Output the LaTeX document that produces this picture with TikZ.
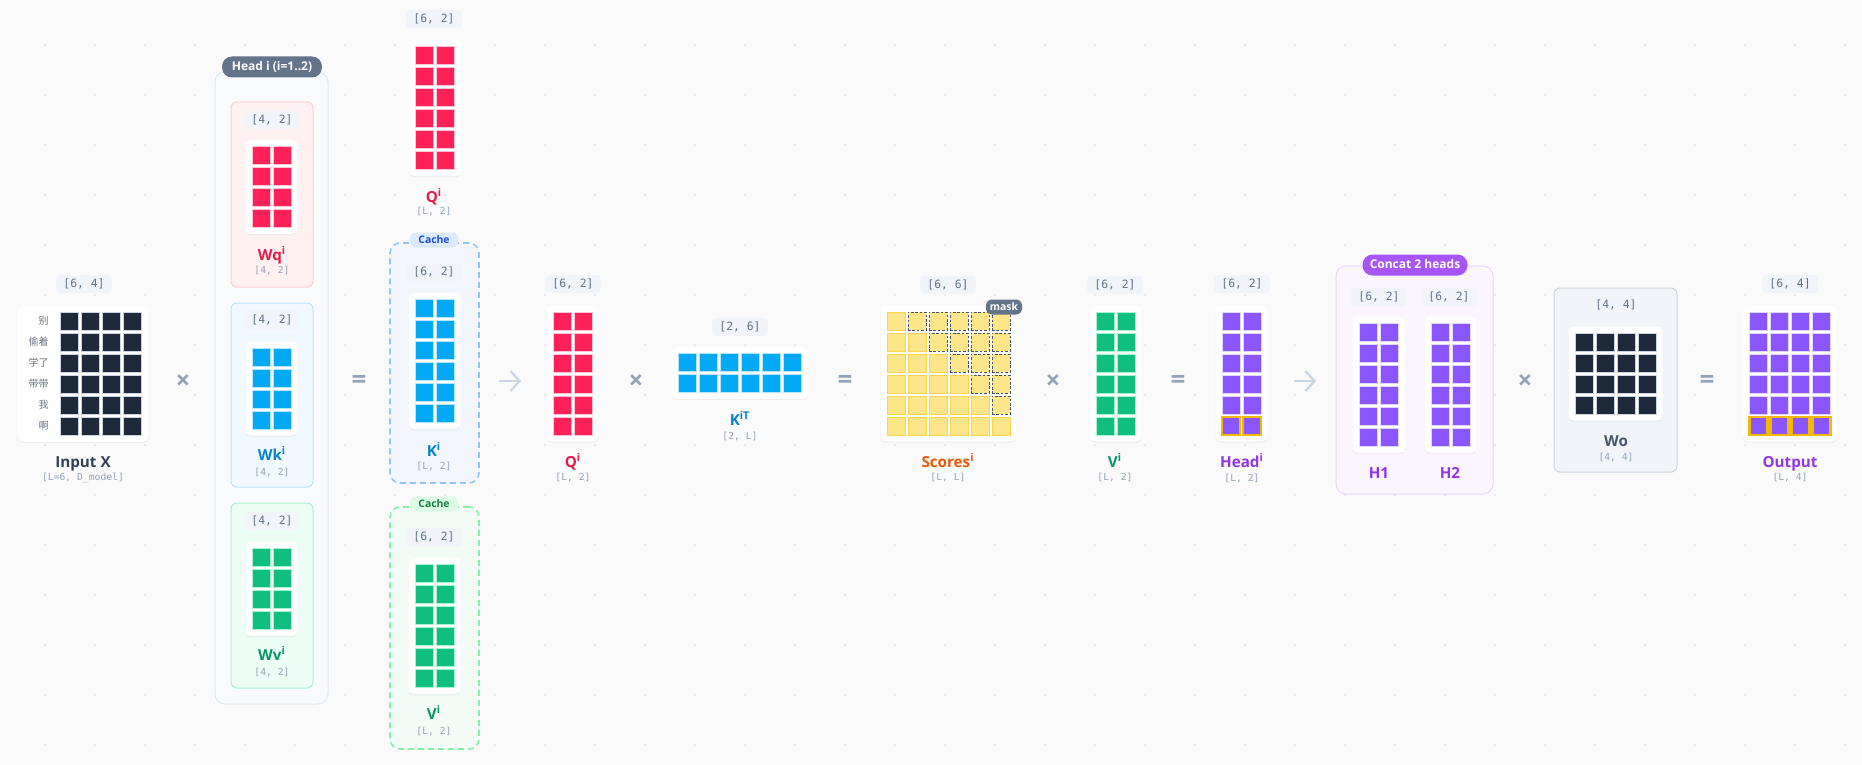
\documentclass[tikz,border=0pt]{standalone}
\usepackage{fontspec}
\setmainfont{Open Sans}
\setmonofont{DejaVu Sans Mono}
\newfontfamily\cjk{Noto Sans CJK SC}
\usepackage{xcolor}
\usetikzlibrary{arrows.meta,shadows}

\definecolor{bgc}{HTML}{FAFAFB}
\definecolor{dotc}{HTML}{E6E7F4}
\definecolor{navy}{HTML}{1E293B}
\definecolor{navyln}{HTML}{CBD5E1}
\definecolor{rose}{HTML}{FF2157}
\definecolor{roseln}{HTML}{FFC4D2}
\definecolor{sky}{HTML}{03A9F4}
\definecolor{skyln}{HTML}{B3E5FC}
\definecolor{emer}{HTML}{10BE7F}
\definecolor{emerln}{HTML}{A7F3D0}
\definecolor{purp}{HTML}{8B55FF}
\definecolor{purpln}{HTML}{DDD6FE}
\definecolor{yel}{HTML}{FDE68A}
\definecolor{yelln}{HTML}{FCD34D}
\definecolor{gold}{HTML}{F5B800}
\definecolor{maskln}{HTML}{475569}
\definecolor{tagbg}{HTML}{F1F5F9}
\definecolor{tagtxt}{HTML}{64748B}
\definecolor{dimtxt}{HTML}{94A3B8}
\definecolor{opc}{HTML}{94A3B8}
\definecolor{arrc}{HTML}{CBD5E1}
\definecolor{cjkc}{HTML}{6B7280}
\definecolor{slate}{HTML}{334155}
\definecolor{slatel}{HTML}{475569}
\definecolor{pillgray}{HTML}{64748B}
\definecolor{qcol}{HTML}{E11D48}
\definecolor{kcol}{HTML}{0284C7}
\definecolor{vcol}{HTML}{059669}
\definecolor{scol}{HTML}{EA580C}
\definecolor{hcol}{HTML}{9333EA}
\definecolor{headbg}{HTML}{F8FAFC}
\definecolor{headln}{HTML}{E2E8F0}
\definecolor{wqbg}{HTML}{FFF1F2}
\definecolor{wqln}{HTML}{FECDD3}
\definecolor{wkbg}{HTML}{F0F9FF}
\definecolor{wkln}{HTML}{BAE6FD}
\definecolor{wvbg}{HTML}{ECFDF5}
\definecolor{wvln}{HTML}{A7F3D0}
\definecolor{kcbg}{HTML}{F3F7FD}
\definecolor{kcln}{HTML}{93C5FD}
\definecolor{kctag}{HTML}{DBEAFE}
\definecolor{kctxt}{HTML}{1D4ED8}
\definecolor{vcbg}{HTML}{F3FBF6}
\definecolor{vcln}{HTML}{86EFAC}
\definecolor{vctag}{HTML}{DCFCE7}
\definecolor{vctxt}{HTML}{15803D}
\definecolor{catbg}{HTML}{FAF5FF}
\definecolor{catln}{HTML}{E9D5FF}
\definecolor{catpill}{HTML}{A855F7}
\definecolor{wobg}{HTML}{F1F5F9}
\definecolor{woln}{HTML}{CBD5E1}

\begin{document}
\begin{tikzpicture}[x=0.5pt,y=-0.5pt,
  cell/.style={minimum size=9pt, inner sep=0pt, outer sep=0pt, line width=0.5pt},
  card/.style={fill=white, rounded corners=2.5pt, inner sep=0pt,
    drop shadow={shadow xshift=0pt, shadow yshift=-0.6pt, opacity=0.10}},
  tag/.style={fill=tagbg, text=tagtxt, rounded corners=2pt, inner xsep=3.6pt, inner ysep=0pt,
    minimum height=9pt, text height=4.3pt, text depth=1.1pt, font=\ttfamily\fontsize{5.7}{6}\selectfont},
  dims/.style={text=dimtxt, inner sep=0pt, text height=3.6pt, text depth=0.9pt,
    font=\ttfamily\fontsize{4.85}{5}\selectfont},
  title/.style={inner sep=0pt, text height=5.3pt, text depth=0pt, font=\bfseries\fontsize{7.6}{8}\selectfont},
  op/.style={text=opc, inner sep=0pt, font=\bfseries\fontsize{13}{13}\selectfont},
  pill/.style={text=white, rounded corners=5pt, inner xsep=3pt, inner ysep=0pt, minimum height=10.5pt,
    text height=4.4pt, text depth=1pt, font=\bfseries\fontsize{6}{6}\selectfont},
  minipill/.style={rounded corners=3pt, inner xsep=2pt, inner ysep=0pt, minimum height=7.5pt,
    text height=3.8pt, text depth=0.6pt, font=\bfseries\fontsize{5.2}{5}\selectfont},
  box/.style={rounded corners=3pt, line width=0.5pt},
  cachebox/.style={rounded corners=5pt, line width=0.8pt, dash pattern=on 3pt off 2pt},
  rowlab/.style={anchor=east, inner sep=0pt, text=cjkc, font=\cjk\fontsize{5}{5}\selectfont},
  link/.style={draw=arrc, line width=1.1pt, line cap=round, -{Straight Barb[length=4.5pt,width=10pt]}}
]
  \useasboundingbox (0,0) rectangle (1862,765);
  \fill[bgc] (0,0) rectangle (1862,765);
  \foreach \i in {0,...,36}
    \foreach \j in {0,...,14}
      \fill[dotc] ({45+50*\i},{45+50*\j}) circle (0.7pt);

     % Containers
  \node[box, draw=headln, fill=headbg, rounded corners=5pt, minimum width=56.5pt, minimum height=316pt] (headbox) at (271.5,388) {};
  \node[box, draw=wqln, fill=wqbg, minimum width=41pt, minimum height=92.5pt] (wqbox) at (272,194.5) {};
  \node[box, draw=wkln, fill=wkbg, minimum width=41pt, minimum height=92pt] (wkbox) at (272,395) {};
  \node[box, draw=wvln, fill=wvbg, minimum width=41pt, minimum height=92.5pt] (wvbox) at (272,595.5) {};
  \node[cachebox, draw=kcln, fill=kcbg, minimum width=44.5pt, minimum height=120pt] (kcbox) at (434.5,363) {};
  \node[cachebox, draw=vcln, fill=vcbg, minimum width=44.5pt, minimum height=121pt] (vcbox) at (434.5,628) {};
  \node[box, draw=catln, fill=catbg, rounded corners=5pt, minimum width=78.5pt, minimum height=114pt] (catbox) at (1414.5,380) {};
  \node[box, draw=woln, fill=wobg, minimum width=61.5pt, minimum height=92pt] (wobox) at (1615.5,380) {};

  \node[pill, fill=pillgray, minimum width=50pt] (headpill) at (272,67) {Head i (i=1..2)};
  \node[minipill, fill=kctag, text=kctxt, minimum width=24pt] (kcpill) at (434,240) {Cache};
  \node[minipill, fill=vctag, text=vctxt, minimum width=24pt] (vcpill) at (434,504) {Cache};
  \node[pill, fill=catpill, minimum width=52.5pt] (catpill) at (1415,265) {Concat 2 heads};

     % Cards
  \node[card, minimum width=65pt, minimum height=68.5pt] (xcard) at (83,373.5) {};
  \node[card, minimum width=26pt, minimum height=47pt] (wqcard) at (271.5,187) {};
  \node[card, minimum width=26pt, minimum height=47pt] (wkcard) at (271.5,388.5) {};
  \node[card, minimum width=26pt, minimum height=47pt] (wvcard) at (271.5,589) {};
  \node[card, minimum width=26pt, minimum height=68pt] (q1card) at (435,108) {};
  \node[card, minimum width=26pt, minimum height=68pt] (kcard) at (434.5,361) {};
  \node[card, minimum width=26pt, minimum height=68pt] (vcard) at (434.5,626) {};
  \node[card, minimum width=26pt, minimum height=68pt] (q2card) at (572.5,373.5) {};
  \node[card, minimum width=68pt, minimum height=26pt] (ktcard) at (740,373) {};
  \node[card, minimum width=68pt, minimum height=68pt] (sccard) at (948.5,373.5) {};
  \node[card, minimum width=26pt, minimum height=68pt] (v2card) at (1115.5,373.5) {};
  \node[card, minimum width=26pt, minimum height=68pt] (hdcard) at (1241.5,373.5) {};
  \node[card, minimum width=26pt, minimum height=68pt] (h1card) at (1379,385) {};
  \node[card, minimum width=26pt, minimum height=68pt] (h2card) at (1450.5,385) {};
  \node[card, minimum width=47pt, minimum height=47pt] (wocard) at (1615.5,373.5) {};
  \node[card, minimum width=47pt, minimum height=68pt] (outcard) at (1790,373.5) {};

     % Cells
  \foreach \r in {1,...,6}
    \foreach \c in {1,...,4}
      \node[cell, fill=navy, draw=navyln] (x-\r-\c) at ({101+(\c-2.5)*21},{373.5+(\r-3.5)*21}) {};
  \foreach \r in {1,...,4}
    \foreach \c in {1,2} {
      \node[cell, fill=rose, draw=roseln] (wq-\r-\c) at ({271.5+(\c-1.5)*21},{187+(\r-2.5)*21}) {};
      \node[cell, fill=sky, draw=skyln] (wk-\r-\c) at ({271.5+(\c-1.5)*21},{388.5+(\r-2.5)*21}) {};
      \node[cell, fill=emer, draw=emerln] (wv-\r-\c) at ({271.5+(\c-1.5)*21},{589+(\r-2.5)*21}) {};
    }
  \foreach \r in {1,...,6}
    \foreach \c in {1,2} {
      \node[cell, fill=rose, draw=roseln] (q1-\r-\c) at ({435+(\c-1.5)*21},{108+(\r-3.5)*21}) {};
      \node[cell, fill=sky, draw=skyln] (k-\r-\c) at ({434.5+(\c-1.5)*21},{361+(\r-3.5)*21}) {};
      \node[cell, fill=emer, draw=emerln] (v-\r-\c) at ({434.5+(\c-1.5)*21},{626+(\r-3.5)*21}) {};
      \node[cell, fill=rose, draw=roseln] (q2-\r-\c) at ({572.5+(\c-1.5)*21},{373.5+(\r-3.5)*21}) {};
      \node[cell, fill=emer, draw=emerln] (v2-\r-\c) at ({1115.5+(\c-1.5)*21},{373.5+(\r-3.5)*21}) {};
      \node[cell, fill=purp, draw=purpln] (h1-\r-\c) at ({1379+(\c-1.5)*21},{385+(\r-3.5)*21}) {};
      \node[cell, fill=purp, draw=purpln] (h2-\r-\c) at ({1450.5+(\c-1.5)*21},{385+(\r-3.5)*21}) {};
    }
  \foreach \r in {1,2}
    \foreach \c in {1,...,6}
      \node[cell, fill=sky, draw=skyln] (kt-\r-\c) at ({740+(\c-3.5)*21},{373+(\r-1.5)*21}) {};
  \foreach \r in {1,...,6}
    \foreach \c in {1,...,\r}
      \node[cell, fill=yel, draw=yelln] (sc-\r-\c) at ({948.5+(\c-3.5)*21},{373.5+(\r-3.5)*21}) {};
  \foreach \r [evaluate=\r as \s using int(\r+1)] in {1,...,5}
    \foreach \c in {\s,...,6}
      \node[cell, fill=yel, draw=maskln, dash pattern=on 1.3pt off 0.9pt] (sc-\r-\c) at ({948.5+(\c-3.5)*21},{373.5+(\r-3.5)*21}) {};
  \foreach \r in {1,...,5}
    \foreach \c in {1,2}
      \node[cell, fill=purp, draw=purpln] (hd-\r-\c) at ({1241.5+(\c-1.5)*21},{373.5+(\r-3.5)*21}) {};
  \foreach \c in {1,2}
    \node[cell, fill=purp, draw=gold, line width=1.2pt] (hd-6-\c) at ({1241.5+(\c-1.5)*21},{426}) {};
  \foreach \r in {1,...,4}
    \foreach \c in {1,...,4}
      \node[cell, fill=navy, draw=navyln] (wo-\r-\c) at ({1615.5+(\c-2.5)*21},{373.5+(\r-2.5)*21}) {};
  \foreach \r in {1,...,5}
    \foreach \c in {1,...,4}
      \node[cell, fill=purp, draw=purpln] (out-\r-\c) at ({1790+(\c-2.5)*21},{373.5+(\r-3.5)*21}) {};
  \foreach \c in {1,...,4}
    \node[cell, fill=purp, draw=gold, line width=1.2pt] (out-6-\c) at ({1790+(\c-2.5)*21},{426}) {};

  \node[minipill, fill=pillgray, text=white, minimum width=17pt] (maskpill) at (1004,307) {mask};

     % Tokens
  \node[rowlab] (t1) at (49,320.5) {别};
  \node[rowlab] (t2) at (49,341.5) {偷着};
  \node[rowlab] (t3) at (49,362.5) {学了};
  \node[rowlab] (t4) at (49,383.5) {带带};
  \node[rowlab] (t5) at (49,404.5) {我};
  \node[rowlab] (t6) at (49,425.5) {啊};

     % Shapes
  \node[tag] (xtag) at (84,284) {[6, 4]};
  \node[tag] (wqtag) at (272,120) {[4, 2]};
  \node[tag] (wktag) at (272,320) {[4, 2]};
  \node[tag] (wvtag) at (272,521) {[4, 2]};
  \node[tag] (q1tag) at (434,19) {[6, 2]};
  \node[tag] (ktag) at (434,272) {[6, 2]};
  \node[tag] (vtag) at (434,537) {[6, 2]};
  \node[tag] (q2tag) at (573,284) {[6, 2]};
  \node[tag] (kttag) at (740,327) {[2, 6]};
  \node[tag] (sctag) at (948,285) {[6, 6]};
  \node[tag] (v2tag) at (1115,285) {[6, 2]};
  \node[tag] (hdtag) at (1242,284) {[6, 2]};
  \node[tag] (h1tag) at (1379,297) {[6, 2]};
  \node[tag] (h2tag) at (1449,297) {[6, 2]};
  \node[tag, fill=wobg] (wotag) at (1616,305) {[4, 4]};
  \node[tag] (outtag) at (1790,284) {[6, 4]};

     % Names
  \node[title, text=slate] (xname) at (83,462) {Input X};
  \node[dims] (xdim) at (83,478) {[L=6, D\_model]};
  \node[title, text=qcol] (wqname) at (272,255) {Wq\textsuperscript{i}};
  \node[dims] (wqdim) at (272,271) {[4, 2]};
  \node[title, text=kcol] (wkname) at (272,455) {Wk\textsuperscript{i}};
  \node[dims] (wkdim) at (272,473) {[4, 2]};
  \node[title, text=vcol] (wvname) at (272,655) {Wv\textsuperscript{i}};
  \node[dims] (wvdim) at (272,673) {[4, 2]};
  \node[title, text=qcol] (q1name) at (434,197) {Q\textsuperscript{i}};
  \node[dims] (q1dim) at (434,212) {[L, 2]};
  \node[title, text=kcol] (kname) at (434,451) {K\textsuperscript{i}};
  \node[dims] (kdim) at (434,467) {[L, 2]};
  \node[title, text=vcol] (vname) at (434,714) {V\textsuperscript{i}};
  \node[dims] (vdim) at (434,732) {[L, 2]};
  \node[title, text=qcol] (q2name) at (573,462) {Q\textsuperscript{i}};
  \node[dims] (q2dim) at (573,478) {[L, 2]};
  \node[title, text=kcol] (ktname) at (740,420) {K\textsuperscript{iT}};
  \node[dims] (ktdim) at (740,437) {[2, L]};
  \node[title, text=scol] (scname) at (948,462) {Scores\textsuperscript{i}};
  \node[dims] (scdim) at (948,478) {[L, L]};
  \node[title, text=vcol] (v2name) at (1115,462) {V\textsuperscript{i}};
  \node[dims] (v2dim) at (1115,478) {[L, 2]};
  \node[title, text=hcol] (hdname) at (1242,462) {Head\textsuperscript{i}};
  \node[dims] (hddim) at (1242,479) {[L, 2]};
  \node[title, text=hcol] (h1name) at (1379,473) {H1};
  \node[title, text=hcol] (h2name) at (1450,473) {H2};
  \node[title, text=slatel] (woname) at (1616,441) {Wo};
  \node[dims] (wodim) at (1616,458) {[4, 4]};
  \node[title, text=hcol] (outname) at (1790,462) {Output};
  \node[dims] (outdim) at (1790,478) {[L, 4]};

     % Operators
  \node[op] (op1) at (183,382) {×};
  \node[op] (op2) at (359,382) {=};
  \node[op] (op3) at (636,382) {×};
  \node[op] (op4) at (845,382) {=};
  \node[op] (op5) at (1053,382) {×};
  \node[op] (op6) at (1178,382) {=};
  \node[op] (op7) at (1525,382) {×};
  \node[op] (op8) at (1707,382) {=};

  \coordinate (a1) at (500,381);
  \coordinate (a1e) at (521,381);
  \coordinate (a2) at (1295,381);
  \coordinate (a2e) at (1316,381);
  \draw[link] (a1) -- (a1e);
  \draw[link] (a2) -- (a2e);

\end{tikzpicture}
\end{document}
